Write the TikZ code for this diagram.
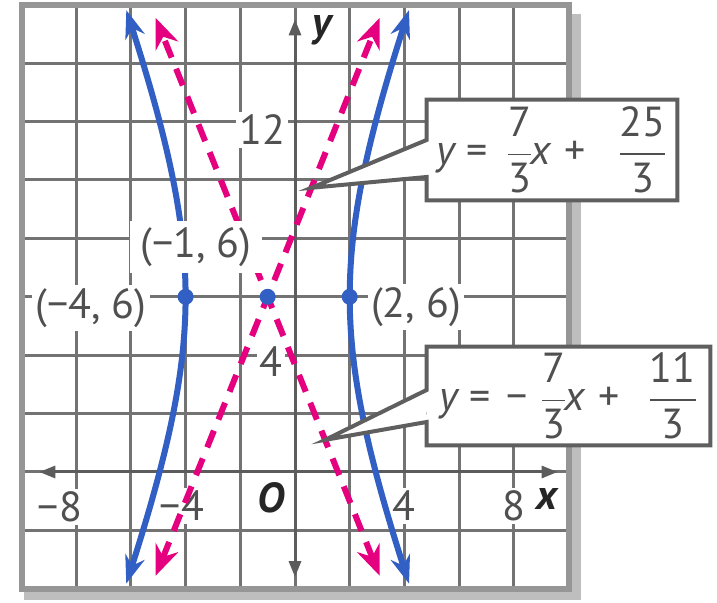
\documentclass[tikz,border=0pt]{standalone}
\usepackage{amsmath}
\usepackage{fontspec}
\setmainfont{PT Sans}
\usetikzlibrary{arrows.meta,calc}
\definecolor{hblue}{RGB}{50,95,195}
\definecolor{hpink}{RGB}{228,0,126}
\definecolor{gridgray}{RGB}{115,115,115}
\definecolor{framegray}{RGB}{150,150,150}
\definecolor{shadowgray}{RGB}{190,190,190}
\definecolor{txtgray}{RGB}{80,80,80}
\definecolor{boxgray}{RGB}{95,95,95}
\newcommand{\myfr}[3][0.9pt]{\ensuremath{\genfrac{}{}{#1}{0}{\hbox{#2}}{\hbox{#3}}}}
\tikzset{
  graph/.style={shift={(147.5pt,-236pt)},x=13.675pt,y=14.6pt},
  gridln/.style={draw=gridgray,line width=1.5pt},
  frameln/.style={draw=framegray,line width=3pt},
  axisln/.style={draw=gridgray!80!black,line width=1.5pt,{Triangle[length=8pt,width=6pt]}-{Triangle[length=8pt,width=6pt]}},
  hyp/.style={draw=hblue,line width=3pt,{Stealth[length=14pt,width=10pt]}-{Stealth[length=14pt,width=10pt]}},
  asym/.style={draw=hpink,line width=3pt,dash pattern=on 9pt off 6pt,{Stealth[length=15pt,width=12pt]}-{Stealth[length=15pt,width=12pt]}},
  dotpt/.style={circle,fill=hblue,inner sep=0pt,minimum size=8pt},
  lbl/.style={fill=white,inner sep=1.5pt,text=txtgray},
  axlbl/.style={inner sep=1pt,text=black!85,font=\fontsize{21}{24}\selectfont\bfseries\itshape},
  eqbox/.style={fill=white,inner sep=0pt,text=txtgray},
  boxln/.style={draw=boxgray,line width=2pt,line join=miter},
}
\begin{document}
\begin{tikzpicture}[x=0.5pt,y=-0.5pt,font=\fontsize{21}{24}\selectfont]
\useasboundingbox (0,0) rectangle (717,603);
\fill[shadowgray] (24,14) rectangle (581,600);
\begin{scope}[graph]
  \fill[white] (-10,-4) rectangle (10,16);
  \foreach \i in {-8,-6,...,8} \draw[gridln] (\i,-4) -- (\i,16);
  \foreach \j in {-2,0,...,14} \draw[gridln] (-10,\j) -- (10,\j);
  \draw[frameln] (-10,-4) rectangle (10,16);
  \coordinate (xl) at (-9.35,0); \coordinate (xr) at (9.6,0);
  \coordinate (yb) at (0,-3.6); \coordinate (yt) at (0,15.5);
  \draw[axisln] (xl) -- (xr);
  \draw[axisln] (yb) -- (yt);
\end{scope}
% tick and axis labels
\node[lbl] (tm8) at (60,507) {−8};
\node[lbl] (tm4) at (182,506) {−4};
\node[lbl] (tp4) at (404,506) {4};
\node[lbl] (tp8) at (514,506) {8};
\node[axlbl] (xlab) at (547,499) {x};
\node[axlbl,fill=white] (olab) at (271,498) {O};
\node[lbl] (t12) at (262,130) {12};
\node[lbl] (ty4) at (271,362) {4};
\node[axlbl] (ylab) at (322,30) {y};
\node[lbl] (pA) at (91,308) {(−4, 6)};
\node[lbl] (pB) at (416,307) {(2, 6)};
% curves
\begin{scope}[graph]
  \draw[hyp] plot[domain=-1.14:1.14,samples=80,variable=\t] ({-1+3*cosh(\t)},{6+7*sinh(\t)});
  \draw[hyp] plot[domain=-1.14:1.14,samples=80,variable=\t] ({-1-3*cosh(\t)},{6+7*sinh(\t)});
  \coordinate (a1s) at (-5.093,-3.55); \coordinate (a1e) at (3.093,15.55);
  \coordinate (a2s) at (3.093,-3.55); \coordinate (a2e) at (-5.093,15.55);
  \draw[asym] (a1s) -- (a1e);
  \draw[asym] (a2s) -- (a2e);
  \node[dotpt] (v1) at (-4,6) {};
  \node[dotpt] (v2) at (2,6) {};
  \node[dotpt] (cen) at (-1,6) {};
  \coordinate (tip1) at (0.6,9.733);
  \coordinate (tip2) at (1.1,1.1);
\end{scope}
\node[lbl,inner xsep=5pt,inner ysep=3pt] (pC) at (196,247) {(−1, 6)};
% callout 1
\node[eqbox,minimum width=125pt,minimum height=50pt] (eq1) at (552,150)
  {\textit{y}\hspace{5pt}=\hspace{9pt}\myfr[0.4pt]{7}{3}\hspace{-1.5pt}\textit{x}\hspace{6pt}+\hspace{16pt}\myfr{25}{3}};
\fill[white] ($(eq1.west)+(0,-10)$) -- (tip1) -- ($(eq1.west)+(0,27)$) -- cycle;
\draw[boxln] ($(eq1.west)+(0,27)$) -- (tip1) -- ($(eq1.west)+(0,-10)$) -- (eq1.north west) -- (eq1.north east) -- (eq1.south east) -- (eq1.south west) -- cycle;
% callout 2
\node[eqbox,minimum width=141.5pt,minimum height=49pt] (eq2) at (568.5,396)
  {\textit{y}\hspace{5pt}=\hspace{8pt}−\hspace{6pt}\myfr[0.4pt]{7}{3}\hspace{-1.5pt}\textit{x}\hspace{6pt}+\hspace{14pt}\myfr{11}{3}};
\fill[white] ($(eq2.west)+(0,-6)$) -- (tip2) -- ($(eq2.west)+(0,26)$) -- cycle;
\draw[boxln] ($(eq2.west)+(0,26)$) -- (tip2) -- ($(eq2.west)+(0,-6)$) -- (eq2.north west) -- (eq2.north east) -- (eq2.south east) -- (eq2.south west) -- cycle;
\end{tikzpicture}
\end{document}
